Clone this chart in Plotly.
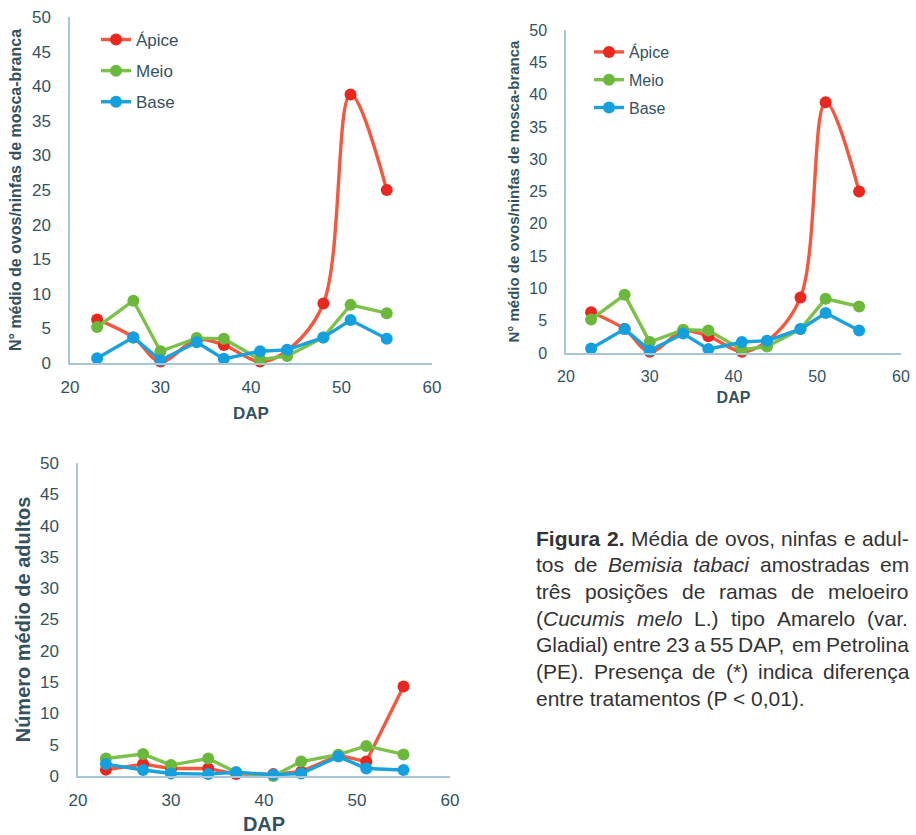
import re
import plotly.graph_objects as go

# ---------------- data ----------------
dap = [23, 27, 30, 34, 37, 41, 44, 48, 51, 55]

ovos_apice = [6.3, 3.7, 0.2, 3.4, 2.6, 0.2, 1.8, 8.6, 38.8, 25.0]
ovos_meio = [5.2, 9.0, 1.7, 3.6, 3.5, 0.5, 1.0, 3.7, 8.4, 7.2]
ovos_base = [0.7, 3.7, 0.4, 3.0, 0.6, 1.7, 1.9, 3.7, 6.2, 3.5]

ad_apice = [1.0, 1.9, 1.2, 1.2, 0.3, 0.3, 0.7, 3.3, 2.3, 14.3]
ad_meio = [2.8, 3.5, 1.75, 2.8, 0.6, 0.0, 2.3, 3.4, 4.8, 3.45]
ad_base = [1.9, 0.95, 0.4, 0.3, 0.6, 0.2, 0.4, 3.1, 1.2, 0.95]

series_names = ["Ápice", "Meio", "Base"]
y_ticks = [0, 5, 10, 15, 20, 25, 30, 35, 40, 45, 50]
x_ticks = [20, 30, 40, 50, 60]

title_ovos = "N° médio de ovos/ninfas de mosca-branca"
title_adultos = "Número médio de adultos"
title_x = "DAP"

caption_lines = [
    "<b>Figura</b> <b>2.</b> Média de ovos, ninfas e adul-",
    "tos de <i>Bemisia</i> <i>tabaci</i> amostradas em",
    "três posições de ramas de meloeiro",
    "(<i>Cucumis</i> <i>melo</i> L.) tipo Amarelo (var.",
    "Gladial) entre 23 a 55 DAP, em Petrolina",
    "(PE). Presença de (*) indica diferença",
    "entre tratamentos (P &lt; 0,01).",
]

# ---------------- style ----------------
W, H = 916, 835
LINE_COL = ["#f2593f", "#7cc24a", "#1ba2dc"]
MARK_COL = ["#e8281e", "#6bb83c", "#14a0de"]
TXT = "#34525e"
AXC = "#a9c5d6"
FONT = "Liberation Sans, Arial, sans-serif"

def px_x(p):
    return p / W

def px_y(p):
    return 1 - p / H

fig = go.Figure()

def add_series(xa, ya, ys, smooth_first, legend, showlegend):
    for i, (name, vals) in enumerate(zip(series_names, ys)):
        shape = "spline" if (i == 0 and smooth_first) else "linear"
        fig.add_trace(go.Scatter(
            x=dap, y=vals, name=name, mode="lines+markers",
            xaxis=xa, yaxis=ya,
            line=dict(color=LINE_COL[i], width=3.4, shape=shape, smoothing=1.0),
            marker=dict(color=MARK_COL[i], size=12, line=dict(width=0)),
            legend=legend, legendgroup=legend + name, showlegend=showlegend,
            cliponaxis=False,
        ))

add_series("x", "y", [ovos_apice, ovos_meio, ovos_base], True, "legend", True)
add_series("x2", "y2", [ovos_apice, ovos_meio, ovos_base], True, "legend2", True)
add_series("x3", "y3", [ad_apice, ad_meio, ad_base], False, "legend", False)

def xaxis(dom, anchor, fs, tfs, standoff):
    return dict(domain=dom, anchor=anchor, range=[20, 60], tickvals=x_ticks,
                automargin=False,
                showgrid=False, zeroline=False, showline=True, linecolor=AXC, linewidth=1.5,
                ticks="outside", ticklen=8, tickcolor="rgba(0,0,0,0)",
                tickfont=dict(family=FONT, size=fs, color=TXT),
                title=dict(text="<b>" + title_x + "</b>", font=dict(family=FONT, size=tfs, color=TXT),
                           standoff=standoff))

def yaxis(dom, anchor, fs, title, tfs, standoff):
    return dict(domain=dom, anchor=anchor, range=[0, 50], tickvals=y_ticks,
                automargin=False,
                showgrid=False, zeroline=False, showline=True, linecolor=AXC, linewidth=1.5,
                ticks="outside", ticklen=14, tickcolor="rgba(0,0,0,0)",
                tickfont=dict(family=FONT, size=fs, color=TXT),
                title=dict(text="<b>" + title + "</b>", font=dict(family=FONT, size=tfs, color=TXT),
                           standoff=standoff))

fig.update_layout(
    width=W, height=H, margin=dict(l=0, r=0, t=0, b=0, autoexpand=False),
    paper_bgcolor="white", plot_bgcolor="white",
    font=dict(family=FONT, color=TXT),
    xaxis=xaxis([px_x(70), px_x(432)], "y", 17, 17, 11),
    yaxis=yaxis([px_y(363), px_y(17)], "x", 17, title_ovos, 16, 6),
    xaxis2=xaxis([px_x(566), px_x(901)], "y2", 16, 16, 8),
    yaxis2=yaxis([px_y(353), px_y(30)], "x2", 16, title_ovos, 15, 6),
    xaxis3=xaxis([px_x(78), px_x(450)], "y3", 17, 20, 10),
    yaxis3=yaxis([px_y(776), px_y(463)], "x3", 17, title_adultos, 20, 4),
    legend=dict(x=px_x(96), y=px_y(22), xanchor="left", yanchor="top",
                bgcolor="rgba(0,0,0,0)", traceorder="grouped", tracegroupgap=6,
                font=dict(family=FONT, size=17, color=TXT)),
    legend2=dict(x=px_x(589), y=px_y(35), xanchor="left", yanchor="top",
                 bgcolor="rgba(0,0,0,0)", traceorder="grouped", tracegroupgap=4,
                 font=dict(family=FONT, size=16, color=TXT)),
    showlegend=True,
)

# ---------------- caption (justified) ----------------
REG = {' ': 278, '(': 333, ')': 333, '*': 389, ',': 278, '-': 333, '.': 278, '<': 584,
       'A': 667, 'B': 667, 'C': 722, 'D': 722, 'E': 667, 'F': 611, 'G': 778, 'L': 556,
       'M': 833, 'P': 667, 'a': 556, 'b': 556, 'c': 500, 'd': 556, 'e': 556, 'f': 278,
       'g': 556, 'h': 556, 'i': 222, 'l': 222, 'm': 833, 'n': 556, 'o': 556, 'p': 556,
       'r': 333, 's': 500, 't': 278, 'u': 556, 'v': 500, 'x': 500, 'é': 556, 'ê': 556,
       'õ': 556, 'ç': 500, 'ú': 556}
BOLD = {'F': 611, 'i': 278, 'g': 611, 'u': 611, 'r': 389, 'a': 556, '.': 278}

def plain(s):
    return re.sub(r"<[^>]+>", "", s).replace("&lt;", "<")

def width(word, size):
    bold = "<b>" in word
    tot = 0
    for ch in plain(word):
        if bold:
            tot += BOLD.get(ch, REG.get(ch, 556))
        else:
            tot += REG.get(ch, 556)
    return tot / 1000 * size

CAP_FS = 21
CAP_X0, CAP_X1 = 535, 908
CAP_Y0, CAP_DY = 538, 26.7
CAP_COL = "#333333"

for li, line in enumerate(caption_lines):
    yc = CAP_Y0 + li * CAP_DY
    if li == len(caption_lines) - 1:
        fig.add_annotation(x=px_x(CAP_X0), y=px_y(yc), xref="paper", yref="paper",
                           text=line, showarrow=False, xanchor="left", yanchor="middle",
                           borderpad=0, font=dict(family=FONT, size=CAP_FS, color=CAP_COL))
        continue
    words = line.split(" ")
    ws = [width(w, CAP_FS) for w in words]
    gap = (CAP_X1 - CAP_X0 - sum(ws)) / (len(words) - 1)
    x = CAP_X0
    for w, wd in zip(words, ws):
        fig.add_annotation(x=px_x(x), y=px_y(yc), xref="paper", yref="paper",
                           text=w, showarrow=False, xanchor="left", yanchor="middle",
                           borderpad=0, font=dict(family=FONT, size=CAP_FS, color=CAP_COL))
        x += wd + gap

fig.write_html("out.html", config={"displayModeBar": False},
               post_script="document.body.style.margin='0px';")
